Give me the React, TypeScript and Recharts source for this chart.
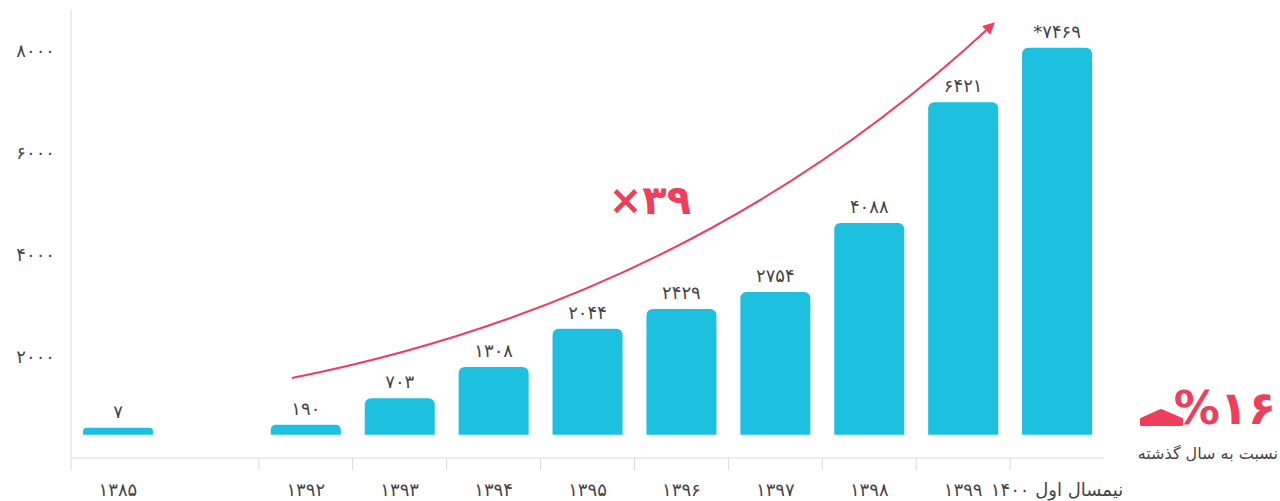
import { Bar, BarChart, LabelList, XAxis, YAxis } from "recharts";

// سال‌ها؛ خانهٔ خالی فاصلهٔ بین ۱۳۸۵ و ۱۳۹۲ است
const years = [
  "۱۳۸۵",
  "",
  "۱۳۹۲",
  "۱۳۹۳",
  "۱۳۹۴",
  "۱۳۹۵",
  "۱۳۹۶",
  "۱۳۹۷",
  "۱۳۹۸",
  "۱۳۹۹",
  "نیمسال اول ۱۴۰۰",
];
const counts: (number | null)[] = [7, null, 190, 703, 1308, 2044, 2429, 2754, 4088, 6421, 7469];
// ستاره روی مقدار نیمسال (داده ناقص)
const starredIndex = 10;
const yTicks = [2000, 4000, 6000, 8000];

const BAR = "#1EC0E0";
const PINK = "#EF3E5C";
const TEXT = "#444";
const AXIS = "#DADADA";

const fa = (v: number | string) => String(v).replace(/\d/g, (d) => "۰۱۲۳۴۵۶۷۸۹"[Number(d)]);

const data = years.map((year, i) => ({
  year,
  count: counts[i],
  label: counts[i] == null ? "" : (i === starredIndex ? "*" : "") + fa(counts[i] as number),
}));

function YearTick({ x, y, payload }: any) {
  const label = payload?.value;
  if (!label) return null;
  const half = payload.offset || 47;
  return (
    <g>
      <line x1={x - half} x2={x - half} y1={y} y2={y + 12} stroke={AXIS} />
      <text x={x} y={y + 33} textAnchor="middle" dominantBaseline="middle" fontSize={18} fill={TEXT}>
        {label}
      </text>
    </g>
  );
}

function ValueLabel({ x, y, width, value }: any) {
  if (!value) return null;
  return (
    <text x={x + width / 2} y={y - 10} textAnchor="middle" fontSize={18} fill={TEXT}>
      {value}
    </text>
  );
}

export default function App() {
  return (
    <div style={{ position: "absolute", left: 0, top: 0, fontFamily: "'DejaVu Sans', sans-serif" }}>
      <BarChart
        width={1280}
        height={501}
        data={data}
        margin={{ top: 10, right: 176, left: 0, bottom: 0 }}
      >
        <defs>
          <marker id="arrowHead" markerWidth="12" markerHeight="12" refX="8" refY="6" orient="auto" markerUnits="userSpaceOnUse">
            <path d="M0 0 L12 6 L0 12 Z" fill={PINK} />
          </marker>
        </defs>
        <XAxis
          dataKey="year"
          interval={0}
          height={43}
          tickSize={0}
          tickMargin={0}
          tickLine={false}
          axisLine={{ stroke: AXIS }}
          tick={<YearTick />}
        />
        <YAxis
          yAxisId="scale"
          domain={[0, 8800]}
          ticks={yTicks}
          allowDataOverflow
          width={71}
          tickSize={0}
          tickMargin={16}
          tickLine={false}
          axisLine={{ stroke: AXIS }}
          tick={{ fontSize: 18, fill: TEXT }}
          tickFormatter={(v: number) => fa(v)}
        />
        <YAxis yAxisId="bars" orientation="right" hide domain={[-450, 8200]} allowDataOverflow />
        <Bar
          yAxisId="bars"
          dataKey="count"
          fill={BAR}
          barSize={70}
          radius={[6, 6, 0, 0]}
          minPointSize={7}
          isAnimationActive={false}
        >
          <LabelList dataKey="label" content={<ValueLabel />} />
        </Bar>

        {/* منحنی رشد */}
        <path
          d="M292 378 Q700 297 992 25"
          fill="none"
          stroke={PINK}
          strokeWidth={2}
          markerEnd="url(#arrowHead)"
        />
        <text x={650} y={203} textAnchor="middle" dominantBaseline="middle" fontSize={40} fontWeight="bold" fill={PINK}>
          ×۳۹
        </text>

        {/* رشد نسبت به سال قبل */}
        <path
          d="M1141 425 L1141 419 L1161 410 L1182 419 L1182 425 Z"
          fill={PINK}
          stroke={PINK}
          strokeWidth={2}
          strokeLinejoin="round"
        />
        <text x={1276} y={411} textAnchor="end" dominantBaseline="middle" fontSize={46} fontWeight="bold" fill={PINK}>
          %۱۶
        </text>
        <text x={1278} y={454} textAnchor="end" dominantBaseline="middle" fontSize={16} fill={TEXT}>
          نسبت به سال گذشته
        </text>
      </BarChart>
    </div>
  );
}
